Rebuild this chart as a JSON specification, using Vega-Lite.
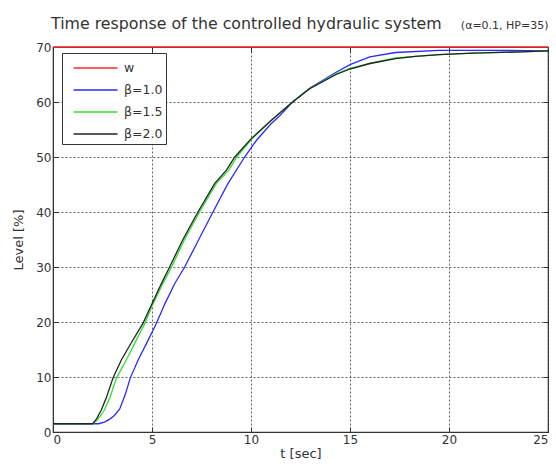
{
  "$schema": "https://vega.github.io/schema/vega-lite/v6.json",
  "autosize": "none",
  "width": 495,
  "height": 385,
  "padding": {"left": 53, "top": 47, "right": 8, "bottom": 37},
  "background": "white",
  "title": {
    "text": "Time response of the controlled hydraulic system",
    "font": "DejaVu Sans",
    "fontSize": 15.8,
    "fontWeight": "normal",
    "color": "#333333",
    "anchor": "start",
    "frame": "group",
    "dx": -2,
    "offset": -13
  },
  "config": {
    "view": {"stroke": "#333333", "strokeWidth": 1.2},
    "axis": {
      "labelFont": "DejaVu Sans",
      "titleFont": "DejaVu Sans",
      "labelFontSize": 12,
      "titleFontSize": 13,
      "titleFontWeight": "normal",
      "labelColor": "#333333",
      "titleColor": "#333333",
      "domainColor": "#333333",
      "tickColor": "#333333",
      "gridColor": "#222222",
      "gridDash": [2, 2],
      "gridOpacity": 0.7,
      "gridWidth": 1
    }
  },
  "resolve": {"axis": {"x": "independent", "y": "independent"}},
  "data": {
    "values": [
      {"t": 0, "v": 70, "s": "w"},
      {"t": 25, "v": 70, "s": "w"},

      {"t": 0, "v": 1.5, "s": "β=1.0"},
      {"t": 2.3, "v": 1.5, "s": "β=1.0"},
      {"t": 2.6, "v": 1.8, "s": "β=1.0"},
      {"t": 2.85, "v": 2.3, "s": "β=1.0"},
      {"t": 3.1, "v": 3.0, "s": "β=1.0"},
      {"t": 3.37, "v": 4.2, "s": "β=1.0"},
      {"t": 3.65, "v": 6.8, "s": "β=1.0"},
      {"t": 3.9, "v": 9.8, "s": "β=1.0"},
      {"t": 4.3, "v": 13.1, "s": "β=1.0"},
      {"t": 4.75, "v": 16.3, "s": "β=1.0"},
      {"t": 5.2, "v": 19.6, "s": "β=1.0"},
      {"t": 5.65, "v": 23.3, "s": "β=1.0"},
      {"t": 6.15, "v": 27.0, "s": "β=1.0"},
      {"t": 6.65, "v": 30.0, "s": "β=1.0"},
      {"t": 7.35, "v": 34.9, "s": "β=1.0"},
      {"t": 8.08, "v": 40.0, "s": "β=1.0"},
      {"t": 8.84, "v": 45.2, "s": "β=1.0"},
      {"t": 9.68, "v": 50.0, "s": "β=1.0"},
      {"t": 10.27, "v": 53.0, "s": "β=1.0"},
      {"t": 11.0, "v": 56.0, "s": "β=1.0"},
      {"t": 11.4, "v": 57.3, "s": "β=1.0"},
      {"t": 12.1, "v": 60.0, "s": "β=1.0"},
      {"t": 12.96, "v": 62.5, "s": "β=1.0"},
      {"t": 14.3, "v": 65.4, "s": "β=1.0"},
      {"t": 15.0, "v": 66.8, "s": "β=1.0"},
      {"t": 16.0, "v": 68.2, "s": "β=1.0"},
      {"t": 17.3, "v": 69.0, "s": "β=1.0"},
      {"t": 19.5, "v": 69.4, "s": "β=1.0"},
      {"t": 22.0, "v": 69.4, "s": "β=1.0"},
      {"t": 25.0, "v": 69.3, "s": "β=1.0"},

      {"t": 0, "v": 1.5, "s": "β=1.5"},
      {"t": 2.0, "v": 1.5, "s": "β=1.5"},
      {"t": 2.25, "v": 2.2, "s": "β=1.5"},
      {"t": 2.6, "v": 4.0, "s": "β=1.5"},
      {"t": 2.9, "v": 6.5, "s": "β=1.5"},
      {"t": 3.2, "v": 9.8, "s": "β=1.5"},
      {"t": 3.7, "v": 13.1, "s": "β=1.5"},
      {"t": 4.15, "v": 16.3, "s": "β=1.5"},
      {"t": 4.65, "v": 19.8, "s": "β=1.5"},
      {"t": 5.05, "v": 23.3, "s": "β=1.5"},
      {"t": 5.52, "v": 26.8, "s": "β=1.5"},
      {"t": 5.99, "v": 30.0, "s": "β=1.5"},
      {"t": 6.63, "v": 34.9, "s": "β=1.5"},
      {"t": 7.4, "v": 40.0, "s": "β=1.5"},
      {"t": 8.25, "v": 45.2, "s": "β=1.5"},
      {"t": 8.88, "v": 47.6, "s": "β=1.5"},
      {"t": 9.28, "v": 50.0, "s": "β=1.5"},
      {"t": 10.05, "v": 53.3, "s": "β=1.5"},
      {"t": 11.0, "v": 56.6, "s": "β=1.5"},
      {"t": 12.1, "v": 60.0, "s": "β=1.5"},
      {"t": 12.96, "v": 62.4, "s": "β=1.5"},
      {"t": 14.3, "v": 65.1, "s": "β=1.5"},
      {"t": 15.0, "v": 66.1, "s": "β=1.5"},
      {"t": 16.0, "v": 67.0, "s": "β=1.5"},
      {"t": 17.3, "v": 68.0, "s": "β=1.5"},
      {"t": 18.3, "v": 68.3, "s": "β=1.5"},
      {"t": 19.5, "v": 68.6, "s": "β=1.5"},
      {"t": 21.2, "v": 68.9, "s": "β=1.5"},
      {"t": 23.6, "v": 69.1, "s": "β=1.5"},
      {"t": 25.0, "v": 69.3, "s": "β=1.5"},

      {"t": 0, "v": 1.5, "s": "β=2.0"},
      {"t": 2.0, "v": 1.5, "s": "β=2.0"},
      {"t": 2.2, "v": 2.4, "s": "β=2.0"},
      {"t": 2.44, "v": 4.0, "s": "β=2.0"},
      {"t": 2.7, "v": 6.3, "s": "β=2.0"},
      {"t": 3.03, "v": 9.8, "s": "β=2.0"},
      {"t": 3.45, "v": 13.1, "s": "β=2.0"},
      {"t": 4.0, "v": 16.5, "s": "β=2.0"},
      {"t": 4.55, "v": 19.8, "s": "β=2.0"},
      {"t": 5.0, "v": 23.3, "s": "β=2.0"},
      {"t": 5.45, "v": 26.8, "s": "β=2.0"},
      {"t": 5.89, "v": 30.0, "s": "β=2.0"},
      {"t": 6.55, "v": 34.9, "s": "β=2.0"},
      {"t": 7.32, "v": 40.0, "s": "β=2.0"},
      {"t": 8.17, "v": 45.2, "s": "β=2.0"},
      {"t": 8.76, "v": 47.6, "s": "β=2.0"},
      {"t": 9.18, "v": 50.0, "s": "β=2.0"},
      {"t": 10.0, "v": 53.3, "s": "β=2.0"},
      {"t": 11.0, "v": 56.6, "s": "β=2.0"},
      {"t": 12.1, "v": 60.0, "s": "β=2.0"},
      {"t": 12.96, "v": 62.4, "s": "β=2.0"},
      {"t": 14.3, "v": 65.0, "s": "β=2.0"},
      {"t": 15.0, "v": 66.0, "s": "β=2.0"},
      {"t": 16.0, "v": 67.0, "s": "β=2.0"},
      {"t": 17.3, "v": 67.9, "s": "β=2.0"},
      {"t": 18.3, "v": 68.3, "s": "β=2.0"},
      {"t": 19.5, "v": 68.6, "s": "β=2.0"},
      {"t": 21.2, "v": 68.9, "s": "β=2.0"},
      {"t": 23.6, "v": 69.1, "s": "β=2.0"},
      {"t": 25.0, "v": 69.3, "s": "β=2.0"}
    ]
  },
  "layer": [
    {
      "transform": [{"filter": "datum.s !== 'w'"}],
      "mark": {"type": "line", "strokeWidth": 1.3},
      "encoding": {
        "x": {
          "field": "t",
          "type": "quantitative",
          "scale": {"domain": [0, 25], "nice": false},
          "axis": {"orient": "bottom", "values": [0, 5, 10, 15, 20, 25], "title": "t [sec]", "tickSize": -5, "titlePadding": 2, "labelPadding": 7}
        },
        "y": {
          "field": "v",
          "type": "quantitative",
          "scale": {"domain": [0, 70], "nice": false},
          "axis": {"orient": "left", "values": [0, 10, 20, 30, 40, 50, 60, 70], "title": "Level [%]", "tickSize": -5, "titlePadding": 10, "labelPadding": 7}
        },
        "color": {
          "field": "s",
          "type": "nominal",
          "scale": {"domain": ["w", "β=1.0", "β=1.5", "β=2.0"], "range": ["#ff2a2a", "#2a2aff", "#2ee02e", "#222222"]},
          "legend": {
            "title": null,
            "orient": "none",
            "legendX": 9,
            "legendY": 6,
            "symbolType": "M-2,0H2",
            "symbolSize": 484,
            "symbolStrokeWidth": 1.5,
            "symbolOffset": 18.5,
            "labelFont": "DejaVu Sans",
            "labelFontSize": 12.5,
            "labelColor": "#333333",
            "fillColor": "white",
            "strokeColor": "#333333",
            "padding": 3,
            "rowPadding": 3,
            "labelOffset": 16.5
          }
        },
        "order": {"field": "s"}
      }
    },
    {
      "transform": [{"filter": "datum.s === 'w'"}],
      "mark": {"type": "line", "strokeWidth": 1.3},
      "encoding": {
        "x": {
          "field": "t",
          "type": "quantitative",
          "axis": {"orient": "top", "values": [0, 5, 10, 15, 20, 25], "labels": false, "domain": false, "grid": false, "tickSize": -5, "title": "(α=0.1, HP=35)", "titleAnchor": "end", "titleFontSize": 11, "titlePadding": 16}
        },
        "y": {
          "field": "v",
          "type": "quantitative",
          "axis": {"orient": "right", "values": [0, 10, 20, 30, 40, 50, 60, 70], "labels": false, "domain": false, "grid": false, "tickSize": -5, "title": null}
        },
        "color": {"field": "s", "type": "nominal"}
      }
    }
  ]
}
